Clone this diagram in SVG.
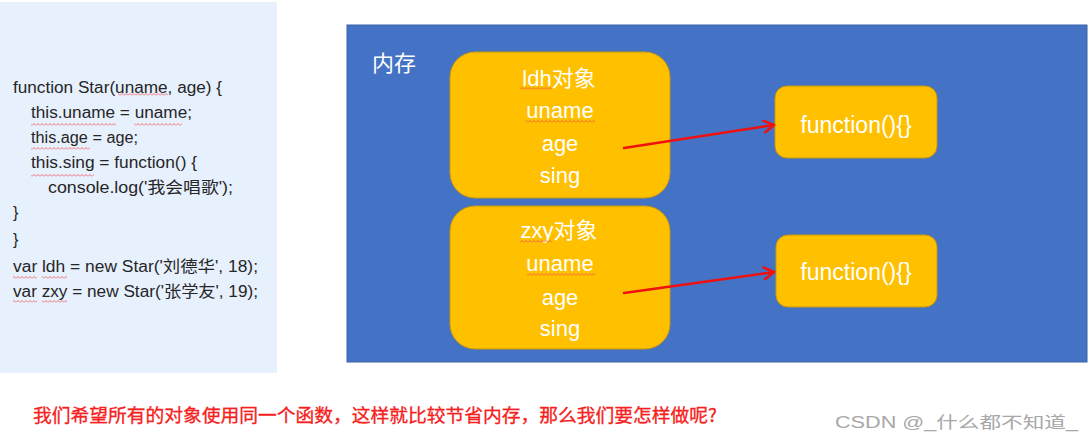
<svg xmlns="http://www.w3.org/2000/svg" width="1091" height="442" viewBox="0 0 1091 442">
<style>
.code{font-family:"Liberation Sans","Noto Sans CJK SC",sans-serif;font-size:16px;fill:#262626}
.w{font-family:"Liberation Sans","Noto Sans CJK SC",sans-serif;font-size:22px;fill:#fff;text-anchor:middle}
.obj{fill:#FFC000;stroke:#C9980A;stroke-width:1}
.conn{stroke:#F01010;stroke-width:2.5;fill:none;stroke-linecap:round}
.sq{fill:url(#wave)}
</style>
<defs>
<pattern id="wave" width="4" height="3" patternUnits="userSpaceOnUse">
<path d="M0,2.5 L2,0.5 L4,2.5" stroke="#F05050" stroke-width="0.8" fill="none"/>
</pattern>
<marker id="arr" markerWidth="14" markerHeight="14" refX="12" refY="7" orient="auto" markerUnits="userSpaceOnUse">
<path d="M2,1 L12,7 L2,13" stroke="#F01010" stroke-width="2.5" fill="none" stroke-linecap="round" stroke-linejoin="round"/>
</marker>
</defs>
<rect width="1091" height="442" fill="#fff"/>
<g id="code">
<rect x="0" y="2" width="277" height="371" fill="#E7F0FD"/>
<text class="code" x="13" y="93" textLength="209" lengthAdjust="spacingAndGlyphs">function Star(uname, age) {</text>
<text class="code" x="31" y="118" textLength="161" lengthAdjust="spacingAndGlyphs">this.uname = uname;</text>
<text class="code" x="31" y="143" textLength="107" lengthAdjust="spacingAndGlyphs">this.age = age;</text>
<text class="code" x="31" y="168" textLength="166" lengthAdjust="spacingAndGlyphs">this.sing = function() {</text>
<text class="code" x="48" y="193" textLength="185" lengthAdjust="spacingAndGlyphs">console.log('我会唱歌');</text>
<text class="code" x="13" y="218">}</text>
<text class="code" x="13" y="245">}</text>
<text class="code" x="13" y="272" textLength="245" lengthAdjust="spacingAndGlyphs">var ldh = new Star('刘德华', 18);</text>
<text class="code" x="13" y="297" textLength="245" lengthAdjust="spacingAndGlyphs">var zxy = new Star('张学友', 19);</text>
<rect class="sq" x="118" y="93" width="50" height="3"/>
<rect class="sq" x="31" y="123" width="85" height="3"/>
<rect class="sq" x="134" y="123" width="48" height="3"/>
<rect class="sq" x="31" y="147" width="59" height="3"/>
<rect class="sq" x="31" y="174" width="63" height="3"/>
<rect class="sq" x="13" y="276" width="24" height="3"/>
<rect class="sq" x="42" y="276" width="25" height="3"/>
<rect class="sq" x="13" y="300" width="24" height="3"/>
<rect class="sq" x="42" y="300" width="25" height="3"/>
</g>
<g id="memory">
<rect x="347" y="25" width="740" height="337" fill="#4472C4" stroke="#3A62A8" stroke-width="1"/>
<text class="w" x="394" y="71">内存</text>
</g>
<g id="ldh">
<rect class="obj" x="450" y="52" width="220" height="146" rx="25"/>
<text class="w" x="559" y="86">ldh对象</text>
<text class="w" x="560" y="118">uname</text>
<text class="w" x="560" y="151">age</text>
<text class="w" x="560" y="183">sing</text>
<rect class="sq" x="520" y="87" width="32" height="3"/>
<rect class="sq" x="526" y="120" width="69" height="3"/>
</g>
<g id="zxy">
<rect class="obj" x="450" y="206" width="220" height="143" rx="25"/>
<text class="w" x="559" y="238">zxy对象</text>
<text class="w" x="560" y="271">uname</text>
<text class="w" x="560" y="305">age</text>
<text class="w" x="560" y="336">sing</text>
<rect class="sq" x="520" y="240" width="32" height="3"/>
<rect class="sq" x="527" y="273" width="68" height="3"/>
</g>
<g id="fn1">
<rect class="obj" x="775" y="86" width="162" height="72" rx="12"/>
<text class="w" x="856" y="133" style="font-size:23px">function(){}</text>
</g>
<g id="fn2">
<rect class="obj" x="776" y="235" width="161" height="72" rx="12"/>
<text class="w" x="856" y="280" style="font-size:23px">function(){}</text>
</g>
<g id="connectors">
<line class="conn" x1="624" y1="148" x2="774" y2="125" marker-end="url(#arr)"/>
<line class="conn" x1="624" y1="293" x2="774" y2="272" marker-end="url(#arr)"/>
</g>
<text x="33" y="422" textLength="684" lengthAdjust="spacingAndGlyphs" style="font-family:'Noto Sans CJK SC',sans-serif;font-size:18px;fill:#F52020;stroke:#F52020;stroke-width:0.3">我们希望所有的对象使用同一个函数，这样就比较节省内存，那么我们要怎样做呢?</text>
<text x="835" y="428" textLength="243" lengthAdjust="spacingAndGlyphs" style="font-family:'Liberation Sans','Noto Sans CJK SC',sans-serif;font-size:16px;fill:#A8A8A8">CSDN @_什么都不知道_</text>
</svg>
